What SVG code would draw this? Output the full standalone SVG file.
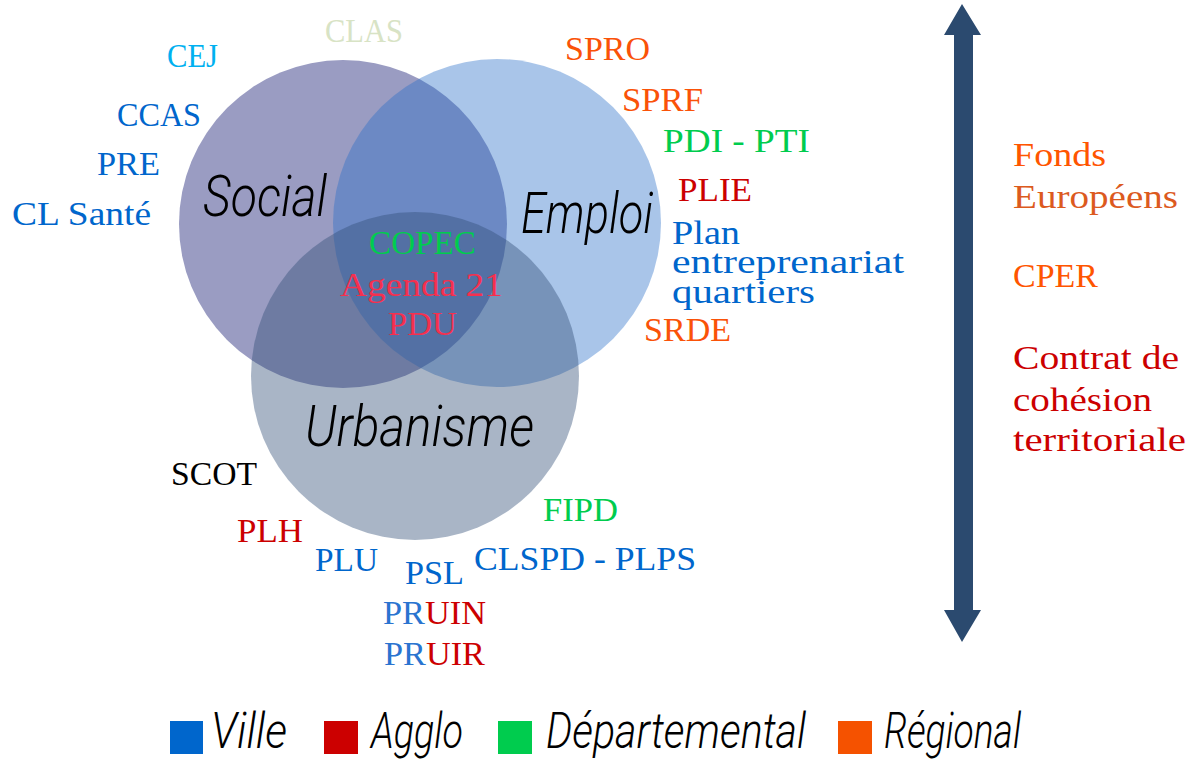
<svg xmlns="http://www.w3.org/2000/svg" width="1195" height="763" viewBox="0 0 1195 763">
<style>
text{font-family:"Liberation Serif","DejaVu Serif",serif;font-size:33px}
.h{font-family:"Roboto","Liberation Sans",sans-serif;font-style:italic;font-weight:300;fill:#000;font-size:58px}
.hs{font-family:"Roboto","Liberation Sans",sans-serif;font-style:italic;font-weight:300;fill:#000;font-size:50px}
.b{fill:#0066cc}.r{fill:#cc0000}.g{fill:#00cc4e}.o{fill:#fa5208}.p{fill:#f5304f}.k{fill:#000}
</style>
<rect width="1195" height="763" fill="#fff"/>
<g id="circle-social"><circle cx="343" cy="224" r="164" fill="#9a9cc2"/><text class="h" x="203" y="216" textLength="124" lengthAdjust="spacingAndGlyphs">Social</text></g>
<g id="circle-emploi"><circle cx="497" cy="223" r="164" fill="#286ec8" fill-opacity=".4"/><text class="h" x="521" y="233" textLength="132" lengthAdjust="spacingAndGlyphs">Emploi</text></g>
<g id="circle-urbanisme"><circle cx="415" cy="376" r="164" fill="#324f77" fill-opacity=".42"/><text class="h" x="305" y="446" textLength="229" lengthAdjust="spacingAndGlyphs">Urbanisme</text></g>
<g id="center-labels">
<text class="g" x="369" y="254" textLength="107" lengthAdjust="spacingAndGlyphs">COPEC</text>
<text class="p" x="340" y="296" textLength="163" lengthAdjust="spacingAndGlyphs">Agenda 21</text>
<text class="p" x="388" y="335" textLength="69" lengthAdjust="spacingAndGlyphs">PDU</text>
</g>
<g id="social-labels">
<text x="325" y="42" fill="#d8e3c5" textLength="78" lengthAdjust="spacingAndGlyphs">CLAS</text>
<text x="167" y="67" fill="#00b0f0" textLength="51" lengthAdjust="spacingAndGlyphs">CEJ</text>
<text class="b" x="117" y="126" textLength="84" lengthAdjust="spacingAndGlyphs">CCAS</text>
<text class="b" x="97" y="175" textLength="63" lengthAdjust="spacingAndGlyphs">PRE</text>
<text class="b" x="12" y="225" textLength="139" lengthAdjust="spacingAndGlyphs">CL Santé</text>
</g>
<g id="emploi-labels">
<text class="o" x="565" y="60" textLength="85" lengthAdjust="spacingAndGlyphs">SPRO</text>
<text class="o" x="622" y="111" textLength="81" lengthAdjust="spacingAndGlyphs">SPRF</text>
<text class="g" x="663" y="152" textLength="147" lengthAdjust="spacingAndGlyphs">PDI - PTI</text>
<text class="r" x="678" y="201" textLength="74" lengthAdjust="spacingAndGlyphs">PLIE</text>
<text class="b" x="672" y="244" textLength="68" lengthAdjust="spacingAndGlyphs">Plan</text>
<text class="b" x="672" y="273" textLength="232" lengthAdjust="spacingAndGlyphs">entreprenariat</text>
<text class="b" x="672" y="303" textLength="143" lengthAdjust="spacingAndGlyphs">quartiers</text>
<text class="o" x="644" y="341" textLength="87" lengthAdjust="spacingAndGlyphs">SRDE</text>
</g>
<g id="urbanisme-labels">
<text class="k" x="171" y="485" textLength="86" lengthAdjust="spacingAndGlyphs">SCOT</text>
<text class="r" x="237" y="542" textLength="66" lengthAdjust="spacingAndGlyphs">PLH</text>
<text class="b" x="315" y="571" textLength="63" lengthAdjust="spacingAndGlyphs">PLU</text>
<text class="b" x="405" y="584" textLength="59" lengthAdjust="spacingAndGlyphs">PSL</text>
<text class="g" x="543" y="521" textLength="75" lengthAdjust="spacingAndGlyphs">FIPD</text>
<text class="b" x="474" y="570" textLength="222" lengthAdjust="spacingAndGlyphs">CLSPD - PLPS</text>
<text x="383" y="624" textLength="103" lengthAdjust="spacingAndGlyphs"><tspan fill="#2a74d0">PR</tspan><tspan class="r">UIN</tspan></text>
<text x="384" y="665" textLength="101" lengthAdjust="spacingAndGlyphs"><tspan fill="#2a74d0">PR</tspan><tspan class="r">UIR</tspan></text>
</g>
<g id="connectors"><polygon id="double-arrow" points="962,4 981,35 973,35 973,610 981,610 962,642 944,610 954,610 954,35 944,35" fill="#2b4a6f"/></g>
<g id="funding-labels">
<text fill="#ff5500" x="1013" y="166" textLength="93" lengthAdjust="spacingAndGlyphs">Fonds</text>
<text fill="#dc5a1e" x="1013" y="208" textLength="165" lengthAdjust="spacingAndGlyphs">Européens</text>
<text fill="#ff5500" x="1013" y="287" textLength="85" lengthAdjust="spacingAndGlyphs">CPER</text>
<text class="r" x="1013" y="369" textLength="166" lengthAdjust="spacingAndGlyphs">Contrat de</text>
<text class="r" x="1013" y="411" textLength="139" lengthAdjust="spacingAndGlyphs">cohésion</text>
<text class="r" x="1013" y="451" textLength="173" lengthAdjust="spacingAndGlyphs">territoriale</text>
</g>
<g id="legend-ville"><rect x="170" y="721" width="33" height="33" fill="#0066cc"/><text class="hs" x="211" y="748" textLength="76" lengthAdjust="spacingAndGlyphs">Ville</text></g>
<g id="legend-agglo"><rect x="324" y="721" width="34" height="33" fill="#cc0000"/><text class="hs" x="371" y="748" textLength="92" lengthAdjust="spacingAndGlyphs">Agglo</text></g>
<g id="legend-departemental"><rect x="498" y="721" width="34" height="33" fill="#00cc4e"/><text class="hs" x="546" y="748" textLength="260" lengthAdjust="spacingAndGlyphs">Départemental</text></g>
<g id="legend-regional"><rect x="838" y="721" width="34" height="33" fill="#f55200"/><text class="hs" x="884" y="748" textLength="137" lengthAdjust="spacingAndGlyphs">Régional</text></g>
</svg>
